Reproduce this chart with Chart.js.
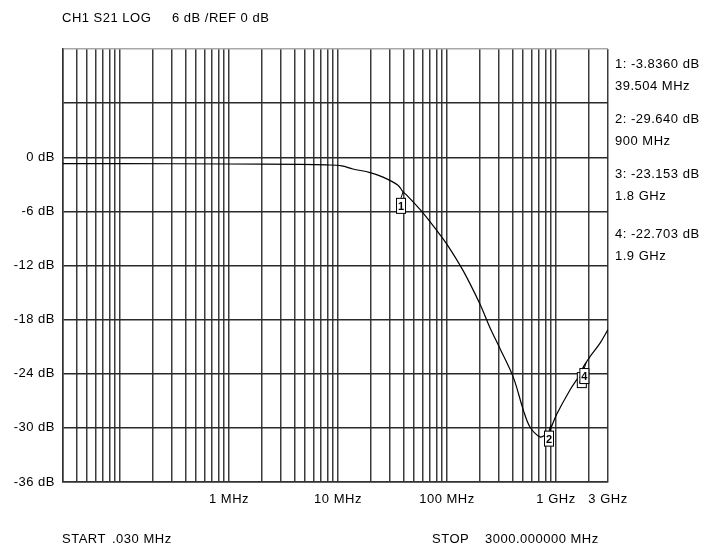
<!DOCTYPE html>
<html>
<head>
<meta charset="utf-8">
<script src="https://cdn.jsdelivr.net/npm/chart.js@4.4.1/dist/chart.umd.min.js"></script>
<style>
body{margin:0;background:#fff;}
#wrap{position:relative;width:720px;height:550px;}
</style>
</head>
<body>
<div id="wrap"><canvas id="chart" width="720" height="550"></canvas></div>
<script>
// trace (MHz, dB)
const freqMHz = [0.03, 0.1, 1, 4.5, 7.8, 10.8, 13.7, 19.7, 25.9, 35.5, 39.5, 42.7, 58.6, 80.4, 99.3, 141, 201, 248, 306, 406, 501, 577, 713, 793, 881, 900, 1015, 1344, 1660, 1800, 1900, 2052, 2536, 3000];
const s21dB = [-0.7, -0.7, -0.75, -0.8, -0.85, -0.95, -1.3, -1.7, -2.2, -3.1, -3.84, -4.2, -6.0, -8.1, -9.6, -12.6, -16.3, -18.9, -21.2, -24.4, -28.0, -29.9, -31.0, -30.8, -30.3, -30.0, -28.5, -25.8, -24.1, -23.15, -22.7, -22.1, -20.6, -19.1];

// markers
const markerNo = [1, 2, 3, 4];
const markerFreq = [39.504, 900, 1800, 1900];
const markerDb = [-3.836, -29.64, -23.153, -22.703];
const markerDbText = ["-3.8360 dB", "-29.640 dB", "-23.153 dB", "-22.703 dB"];
const markerFreqText = ["39.504 MHz", "900 MHz", "1.8 GHz", "1.9 GHz"];

// axes
const yMin = -36, yMax = 12, yStep = 6;
const xMin = 0.03, xMax = 3000;
const xTickLabels = {1: "1 MHz", 10: "10 MHz", 100: "100 MHz", 1000: "1 GHz", 3000: "3 GHz"};

const FONT = "Liberation Sans, Arial, sans-serif";

// grid lines at 1..9 x 10^n inside the sweep
let gridFreqs = [];
for (let e = -2; e <= 3; e++) {
    for (let m = 1; m <= 9; m++) {
        let v = parseFloat((m * Math.pow(10, e)).toPrecision(3));
        if (v >= xMin && v <= xMax) gridFreqs.push(v);
    }
}

const textPlugin = {
    id: "screenText",
    beforeDraw(chart) {
        chart.ctx.letterSpacing = "0.5px";
    },
    afterDraw(chart) {
        const ctx = chart.ctx;
        const xs = chart.scales.x, ys = chart.scales.y;
        ctx.save();
        ctx.letterSpacing = "0.5px";
        ctx.fillStyle = "#000";
        ctx.font = "13px " + FONT;
        ctx.textBaseline = "alphabetic";
        ctx.textAlign = "left";
        ctx.fillText("CH1 S21 LOG", 62, 22);
        ctx.fillText("6 dB /REF 0 dB", 172, 22);

        ctx.fillText("START", 62, 543);
        ctx.fillText(".030 MHz", 112, 543);
        ctx.fillText("STOP", 432, 543);
        ctx.fillText("3000.000000 MHz", 485, 543);

        const base = [68, 123, 178, 238];
        markerNo.forEach(function(n, i){
            ctx.fillText(n + ": " + markerDbText[i], 615, base[i]);
            ctx.fillText(markerFreqText[i], 615, base[i] + 22);
        });

        // marker flags
        ctx.letterSpacing = "0px";
        markerNo.forEach(function(n, i){
            let px = xs.getPixelForValue(markerFreq[i]);
            let py = ys.getPixelForValue(markerDb[i]);
            ctx.strokeStyle = "#000";
            ctx.lineWidth = 1;
            ctx.beginPath();
            ctx.moveTo(px, py);
            ctx.lineTo(px - 2, py + 6);
            ctx.stroke();
            ctx.fillStyle = "#fff";
            ctx.fillRect(px - 6.5, py + 6.5, 9, 15);
            ctx.strokeRect(px - 6.5, py + 6.5, 9, 15);
            ctx.fillStyle = "#000";
            ctx.font = "bold 11px " + FONT;
            ctx.textAlign = "center";
            ctx.fillText(String(n), px - 2, py + 18);
        });
        ctx.restore();
    }
};

new Chart(document.getElementById("chart"), {
    type: "line",
    data: {
        datasets: [{
            data: freqMHz.map(function(f, i){ return {x: f, y: s21dB[i]}; }),
            borderColor: "#000",
            borderWidth: 1.2,
            pointRadius: 0,
            fill: false,
            tension: 0.35
        }]
    },
    options: {
        responsive: false,
        animation: false,
        layout: {padding: {top: 49, right: 112, left: 0, bottom: 0}},
        plugins: {legend: {display: false}, tooltip: {enabled: false}},
        scales: {
            x: {
                type: "logarithmic",
                min: xMin,
                max: xMax,
                afterBuildTicks: function(scale){
                    scale.ticks = gridFreqs.map(function(v){ return {value: v}; });
                },
                afterFit: function(scale){ scale.height = 68; },
                grid: {color: "#3c3c3c", lineWidth: 1.5, drawTicks: false},
                border: {color: "#333", width: 1.5},
                ticks: {
                    autoSkip: false,
                    maxRotation: 0,
                    padding: 10,
                    color: "#000",
                    font: {family: FONT, size: 13},
                    callback: function(value){ return xTickLabels[value] || ""; }
                }
            },
            y: {
                min: yMin,
                max: yMax,
                afterFit: function(scale){ scale.width = 63; },
                grid: {
                    color: function(c){ return c.tick && c.tick.value === yMax ? "#a8a8a8" : "#2a2a2a"; },
                    lineWidth: 1.5,
                    drawTicks: false
                },
                border: {color: "#333", width: 1.5},
                ticks: {
                    stepSize: yStep,
                    padding: 8,
                    color: "#000",
                    font: {family: FONT, size: 13},
                    callback: function(v){ return v <= 0 ? v + " dB" : ""; }
                }
            }
        }
    },
    plugins: [textPlugin]
});
</script>
</body>
</html>
